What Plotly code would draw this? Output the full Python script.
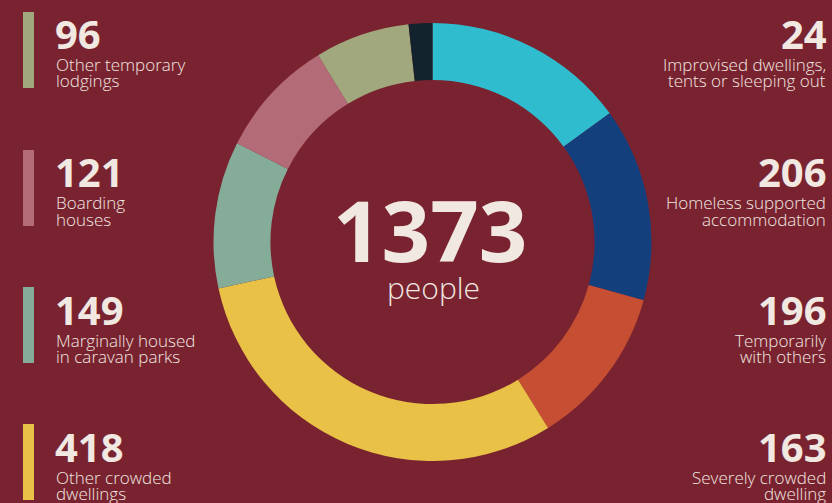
import plotly.graph_objects as go

# ---- data (slice order, clockwise from 12 o'clock) ----
categories = [
    "Homeless supported accommodation",
    "Temporarily with others",
    "Severely crowded dwelling",
    "Other crowded dwellings",
    "Marginally housed in caravan parks",
    "Boarding houses",
    "Other temporary lodgings",
    "Improvised dwellings, tents or sleeping out",
]
values = [206, 196, 163, 418, 149, 121, 96, 24]
colors = ["#2FBCCF", "#133F7D", "#C64F33", "#E8C146", "#85AC99", "#B46B78", "#A1A87D", "#13232D"]

# label lines as displayed (two lines each)
label_lines = {
    "Homeless supported accommodation": ["Homeless supported", "accommodation"],
    "Temporarily with others": ["Temporarily", "with others"],
    "Severely crowded dwelling": ["Severely crowded", "dwelling"],
    "Other crowded dwellings": ["Other crowded", "dwellings"],
    "Marginally housed in caravan parks": ["Marginally housed", "in caravan parks"],
    "Boarding houses": ["Boarding", "houses"],
    "Other temporary lodgings": ["Other temporary", "lodgings"],
    "Improvised dwellings, tents or sleeping out": ["Improvised dwellings,", "tents or sleeping out"],
}
left_items = ["Other temporary lodgings", "Boarding houses",
              "Marginally housed in caravan parks", "Other crowded dwellings"]
right_items = ["Improvised dwellings, tents or sleeping out", "Homeless supported accommodation",
               "Temporarily with others", "Severely crowded dwelling"]
center_unit = "people"

W, H = 832, 503
BG = "#7A2330"
TXT = "#F0E8E1"

def px(x):
    return x / W

def py(y):
    return 1 - y / H

fig = go.Figure()
fig.add_trace(go.Pie(
    labels=categories, values=values, sort=False, direction="clockwise", rotation=0,
    hole=0.74, marker=dict(colors=colors, line=dict(width=0)),
    textinfo="none", hoverinfo="label+value", showlegend=False,
    domain=dict(x=[px(432.5 - 222), px(432.5 + 222)], y=[py(242 + 219), py(242 - 219)]),
))

anns = []
shapes = []
row_tops = [21, 159, 296, 433]
val_of = dict(zip(categories, values))
col_of = dict(zip(categories, colors))

for i, cat in enumerate(left_items):
    t = row_tops[i]
    shapes.append(dict(type="rect", xref="paper", yref="paper",
                       x0=px(23), x1=px(34), y0=py(t - 9 + 76), y1=py(t - 9),
                       fillcolor=col_of[cat], line=dict(width=0)))
    anns.append(dict(x=px(53), y=py(t + 13), xanchor="left", yanchor="middle",
                     text=f"<b>{val_of[cat]}</b>", showarrow=False,
                     font=dict(family="Open Sans", size=40, color=TXT, weight=800)))
    for j, line in enumerate(label_lines[cat]):
        anns.append(dict(x=px(54), y=py(t + 44 + 16 * j), xanchor="left", yanchor="middle",
                         text=line, showarrow=False,
                         font=dict(family="Open Sans", size=17, color=TXT, weight=300)))

for i, cat in enumerate(right_items):
    t = row_tops[i]
    anns.append(dict(x=px(829), y=py(t + 13), xanchor="right", yanchor="middle",
                     text=f"<b>{val_of[cat]}</b>", showarrow=False,
                     font=dict(family="Open Sans", size=40, color=TXT, weight=800)))
    for j, line in enumerate(label_lines[cat]):
        anns.append(dict(x=px(828), y=py(t + 44 + 16 * j), xanchor="right", yanchor="middle",
                         text=line, showarrow=False,
                         font=dict(family="Open Sans", size=17, color=TXT, weight=300)))

anns.append(dict(x=px(430), y=py(229), xanchor="center", yanchor="middle",
                 text=f"<b>{sum(values)}</b>", showarrow=False,
                 font=dict(family="Open Sans", size=85, color=TXT, weight=800)))
anns.append(dict(x=px(433), y=py(287), xanchor="center", yanchor="middle",
                 text=center_unit, showarrow=False,
                 font=dict(family="Open Sans", size=30, color=TXT, weight=300)))

fig.update_layout(
    width=W, height=H, margin=dict(l=0, r=0, t=0, b=0),
    paper_bgcolor=BG, plot_bgcolor=BG,
    annotations=anns, shapes=shapes,
)
fig.write_html(
    "out.html",
    config={"displayModeBar": False},
    post_script="document.body.style.margin='0';document.body.style.overflow='hidden';"
                "document.body.style.background='%s';" % BG,
)
